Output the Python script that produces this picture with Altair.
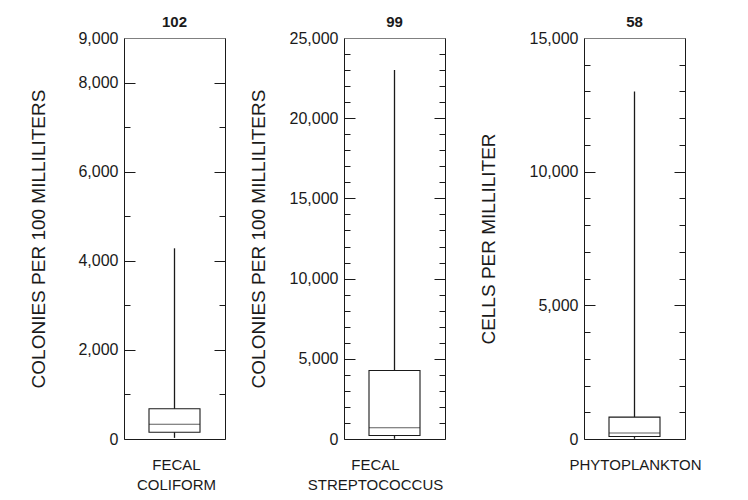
import altair as alt
import pandas as pd

# ---- data ----
categories = ["FECAL COLIFORM", "FECAL STREPTOCOCCUS", "PHYTOPLANKTON"]
x_titles = [["FECAL", "COLIFORM"], ["FECAL", "STREPTOCOCCUS"], ["PHYTOPLANKTON"]]
counts = ["102", "99", "58"]
y_titles = ["COLONIES PER 100 MILLILITERS", "COLONIES PER 100 MILLILITERS", "CELLS PER MILLILITER"]
y_max = [9000, 25000, 15000]
mins = [25, 15, 10]
q1s = [150, 220, 95]
medians = [330, 700, 220]
q3s = [680, 4270, 820]
maxs = [4280, 23000, 13000]
label_values = [
    [0, 2000, 4000, 6000, 8000, 9000],
    [0, 5000, 10000, 15000, 20000, 25000],
    [0, 5000, 10000, 15000],
]
major_ticks = [
    [2000, 4000, 6000, 8000],
    [5000, 10000, 15000, 20000],
    [5000, 10000],
]
minor_ticks = [
    [1000, 3000, 5000, 7000],
    [1000, 2000, 3000, 4000, 6000, 7000, 8000, 9000, 11000, 12000, 13000, 14000,
     16000, 17000, 18000, 19000, 21000, 22000, 23000, 24000],
    [1000, 2000, 3000, 4000, 6000, 7000, 8000, 9000, 11000, 12000, 13000, 14000],
]

# ---- layout constants ----
W = 101
H = 401
INK = "#1a1a1a"
FONT = "Liberation Sans"
Y_TITLE_X = [-76, -76, -86]
X_TITLE_X = [52, 31, 51]


def panel(i):
    df = pd.DataFrame({
        "cat": [categories[i]],
        "lo": [mins[i]],
        "q1": [q1s[i]],
        "med": [medians[i]],
        "q3": [q3s[i]],
        "hi": [maxs[i]],
    })
    base = alt.Chart(df)
    x = alt.X(
        "cat:N",
        axis=alt.Axis(
            title=x_titles[i], labels=False, ticks=False, domain=True,
            domainColor=INK, titlePadding=18, titleFontSize=15,
            titleFontWeight="normal", titleLineHeight=20, titleColor=INK,
            titleX=X_TITLE_X[i],
        ),
    )
    yscale = alt.Scale(domain=[0, y_max[i]], nice=False)

    whisker = base.mark_rule(color=INK, strokeWidth=1.3).encode(
        x=x,
        y=alt.Y("lo:Q", scale=yscale, axis=alt.Axis(
            values=label_values[i], format=",d", ticks=False, tickSize=0,
            labelPadding=6, domain=True, domainColor=INK, grid=False,
            title=y_titles[i], titleX=Y_TITLE_X[i], titleFontSize=19,
            titleFontWeight="normal", titleColor=INK)),
        y2="hi:Q",
    )
    box = base.mark_bar(size=51, fill="white", stroke=INK, strokeWidth=1.1).encode(
        x=x,
        y=alt.Y("q1:Q", axis=alt.Axis(
            orient="right", offset=-W, values=major_ticks[i], labels=False,
            domain=False, grid=False, tickSize=11, tickColor=INK, title=None)),
        y2="q3:Q",
    )
    median = base.mark_tick(size=51, thickness=1, color=INK).encode(
        x=x,
        y=alt.Y("med:Q", axis=alt.Axis(
            orient="right", offset=-W, values=minor_ticks[i], labels=False,
            domain=False, grid=False, tickSize=6, tickColor=INK, title=None)),
    )
    right_major = base.mark_point(opacity=0).encode(
        x=x,
        y=alt.Y("hi:Q", axis=alt.Axis(
            orient="left", offset=-W, values=major_ticks[i], labels=False,
            domain=True, domainColor=INK, grid=False, tickSize=11,
            tickColor=INK, title=None)),
    )
    right_minor = base.mark_point(opacity=0).encode(
        x=x,
        y=alt.Y("lo:Q", axis=alt.Axis(
            orient="left", offset=-W, values=minor_ticks[i], labels=False,
            domain=False, grid=False, tickSize=6, tickColor=INK, title=None)),
    )
    return alt.layer(whisker, box, median, right_major, right_minor).resolve_axis(
        y="independent"
    ).properties(
        width=W, height=H,
        title=alt.TitleParams(counts[i], fontSize=15, fontWeight="bold",
                              offset=0, anchor="middle", frame="group",
                              color=INK),
    )


def spacer(w):
    return alt.Chart(pd.DataFrame({"v": [0]})).mark_point(opacity=0).properties(
        width=w, height=H, view=alt.ViewBackground(stroke="transparent")
    )


chart = alt.hconcat(
    panel(0), spacer(119), panel(1), spacer(139), panel(2),
    spacing=0, bounds="flush",
).properties(
    padding={"left": 20, "top": 6, "right": 5, "bottom": 5}
).configure_view(
    stroke="#808080", strokeWidth=1
).configure_axis(
    labelFont=FONT, titleFont=FONT, labelFontSize=16, labelColor=INK,
).configure_title(
    font=FONT
)

chart.save("out.html", embed_options={"renderer": "svg", "actions": False})
